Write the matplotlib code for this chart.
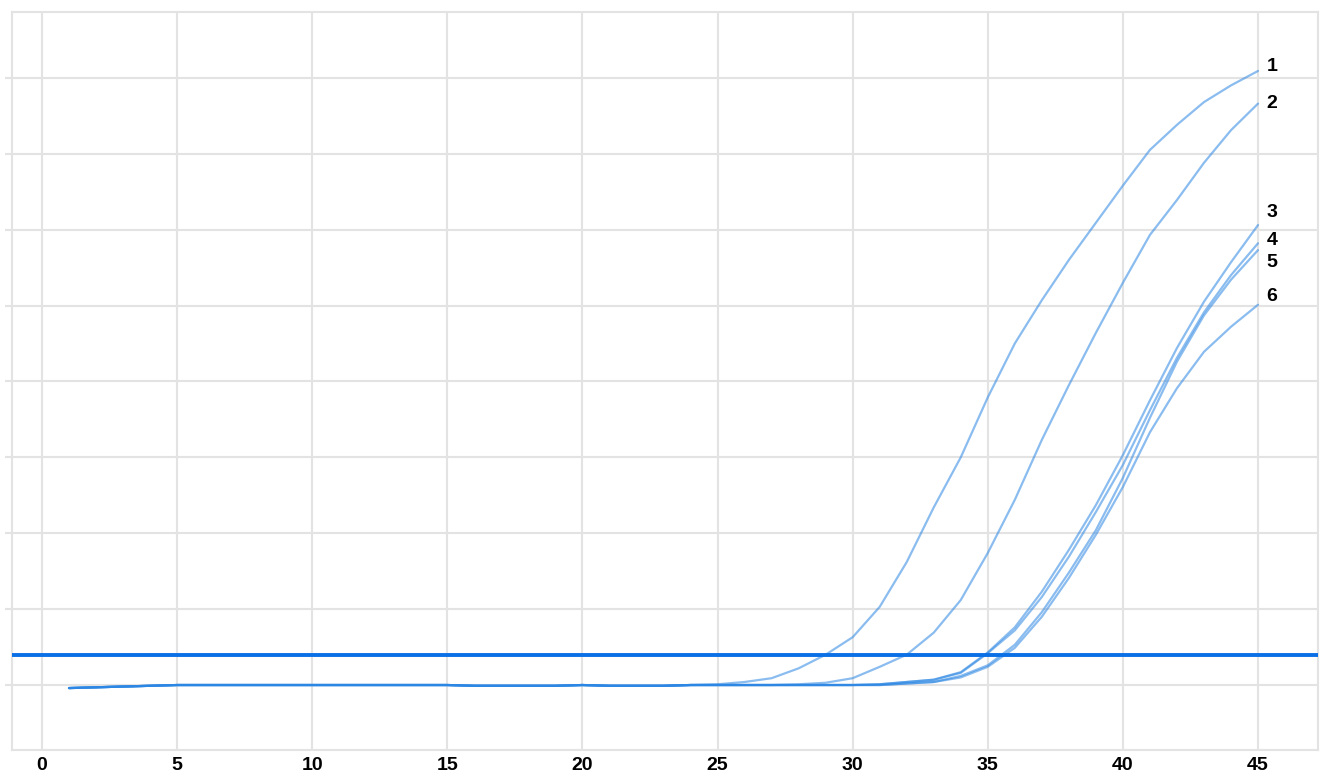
#!/usr/bin/env python3

import matplotlib
matplotlib.use('Agg')
import matplotlib.pyplot as plt


CYCLES = list(range(1, 46))

BASELINE = [-0.04, -0.03, -0.02, -0.01, 0.0, 0.0, 0.0, 0.0, 0.0, 0.0,
            0.0, 0.0, 0.0, 0.0, 0.0, -0.01, -0.01, -0.01, -0.01, 0.0,
            -0.01, -0.01, -0.01, 0.0]

CURVE_1 = BASELINE + [0.01, 0.04, 0.09, 0.22, 0.40, 0.63, 1.03, 1.62, 2.34,
                     3.00, 3.79, 4.50, 5.07, 5.60, 6.09, 6.58, 7.05, 7.38,
                     7.68, 7.90, 8.09]
CURVE_2 = BASELINE + [0.0, 0.0, 0.0, 0.01, 0.03, 0.09, 0.24, 0.40, 0.69,
                     1.12, 1.74, 2.44, 3.23, 3.95, 4.64, 5.30, 5.93, 6.39,
                     6.88, 7.31, 7.66]
CURVE_3 = BASELINE + [0.0, 0.0, 0.0, 0.0, 0.0, 0.0, 0.01, 0.04, 0.07,
                     0.17, 0.43, 0.76, 1.23, 1.78, 2.37, 3.03, 3.75, 4.44,
                     5.05, 5.57, 6.06]
CURVE_4 = BASELINE + [0.0, 0.0, 0.0, 0.0, 0.0, 0.0, 0.01, 0.04, 0.07,
                     0.16, 0.42, 0.72, 1.16, 1.69, 2.28, 2.90, 3.62, 4.31,
                     4.91, 5.40, 5.82]
CURVE_5 = BASELINE + [0.0, 0.0, 0.0, 0.0, 0.0, 0.0, 0.0, 0.02, 0.04,
                     0.12, 0.26, 0.53, 0.96, 1.48, 2.04, 2.73, 3.52, 4.26,
                     4.87, 5.34, 5.73]
CURVE_6 = BASELINE + [0.0, 0.0, 0.0, 0.0, 0.0, 0.0, 0.0, 0.02, 0.04,
                     0.10, 0.24, 0.49, 0.90, 1.41, 1.98, 2.61, 3.33, 3.91,
                     4.39, 4.72, 5.01]

CURVES = [CURVE_1, CURVE_2, CURVE_3, CURVE_4, CURVE_5, CURVE_6]
CURVE_LABELS = ['1', '2', '3', '4', '5', '6']
# vertical nudge of the end labels, in points
LABEL_NUDGE = [3, 0, 9, 2, -9, 6]

THRESHOLD = 0.395

X_TICKS = [0, 5, 10, 15, 20, 25, 30, 35, 40, 45]
Y_GRID = [0, 1, 2, 3, 4, 5, 6, 7, 8]

GRID_COLOR = '#e3e3e3'
CURVE_COLOR = '#2b86e3'
THRESHOLD_COLOR = '#0b6fe6'
FONT = 'Liberation Sans'


def main(outfile='out.png'):
    fig = plt.figure(figsize=(13.2, 7.73), dpi=100)
    ax = fig.add_axes([12 / 1320, 1 - 750 / 773, 1306 / 1320, 738 / 773])

    for values, label, nudge in zip(CURVES, CURVE_LABELS, LABEL_NUDGE):
        ax.plot(CYCLES, values, color=CURVE_COLOR, alpha=0.55, lw=1.6,
                solid_capstyle='round', zorder=3)
        ax.annotate(label, xy=(CYCLES[-1], values[-1]),
                    xytext=(6, nudge), textcoords='offset points',
                    ha='left', va='center', fontsize=14,
                    fontweight='bold', family=FONT,
                    color='black', annotation_clip=False)

    ax.axhline(THRESHOLD, color=THRESHOLD_COLOR, lw=2.8, zorder=4)

    ax.set_xlim(-1.11, 47.22)
    ax.set_ylim(-0.856, 8.867)
    ax.set_xticks(X_TICKS)
    ax.set_yticks(Y_GRID)
    ax.set_yticklabels([])
    ax.grid(True, color=GRID_COLOR, lw=1.5, zorder=0)
    ax.set_axisbelow(True)

    for lab in ax.get_xticklabels():
        lab.set_fontweight('bold')
        lab.set_fontsize(14)
        lab.set_family(FONT)
    ax.tick_params(axis='x', length=0, pad=5)
    ax.tick_params(axis='y', length=5, width=1.5, color=GRID_COLOR)

    for spine in ax.spines.values():
        spine.set_color(GRID_COLOR)
        spine.set_linewidth(1.5)

    fig.savefig(outfile, dpi=100)


if __name__ == '__main__':
    main()
